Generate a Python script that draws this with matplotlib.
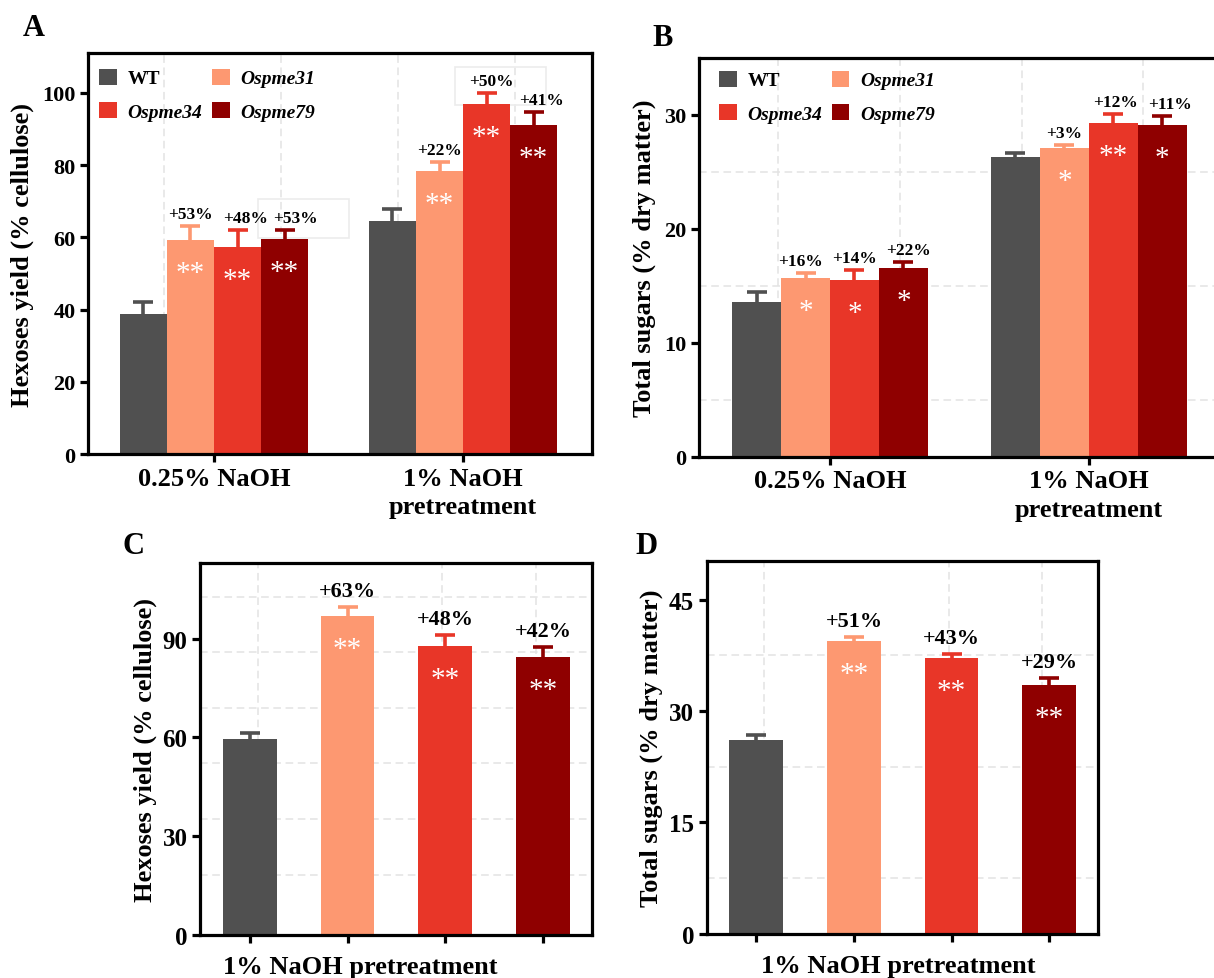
import numpy as np
import matplotlib
matplotlib.use("Agg")
import matplotlib.pyplot as plt
from matplotlib.patches import Patch, Rectangle
from matplotlib.ticker import FixedLocator

# ---------------- data ----------------
genotypes = ["WT", "Ospme31", "Ospme34", "Ospme79"]
groups_ab = ["0.25% NaOH", "1% NaOH\npretreatment"]

# Panel A: hexoses yield (% cellulose), rows = genotypes, cols = groups
hex_a = [[38.8, 64.4], [59.3, 78.3], [57.4, 96.9], [59.5, 91.0]]
hex_a_err = [[3.2, 3.5], [3.7, 2.5], [4.5, 3.0], [2.5, 3.6]]
hex_a_pct = [[None, None], ["+53%", "+22%"], ["+48%", "+50%"], ["+53%", "+41%"]]
hex_a_sig = [[None, None], ["**", "**"], ["**", "**"], ["**", "**"]]

# Panel B: total sugars (% dry matter)
sug_b = [[13.6, 26.3], [15.7, 27.1], [15.5, 29.3], [16.6, 29.1]]
sug_b_err = [[0.9, 0.35], [0.45, 0.3], [0.9, 0.75], [0.5, 0.85]]
sug_b_pct = [[None, None], ["+16%", "+3%"], ["+14%", "+12%"], ["+22%", "+11%"]]
sug_b_sig = [[None, None], ["*", "*"], ["*", "**"], ["*", "*"]]

# Panel C: hexoses yield, 1% NaOH pretreatment
hex_c = [59.4, 97.0, 87.7, 84.4]
hex_c_err = [2.0, 2.6, 3.3, 3.0]
hex_c_pct = [None, "+63%", "+48%", "+42%"]
hex_c_sig = [None, "**", "**", "**"]

# Panel D: total sugars, 1% NaOH pretreatment
sug_d = [26.1, 39.4, 37.2, 33.5]
sug_d_err = [0.7, 0.6, 0.5, 0.9]
sug_d_pct = [None, "+51%", "+43%", "+29%"]
sug_d_sig = [None, "**", "**", "**"]

# ---------------- style ----------------
colors = ["#505050", "#fd9871", "#e83628", "#8f0000"]
# horizontal nudges (pixels) of the percentage labels, as in the original
nudge_a = [[0, 0], [0, 0], [8, 5], [11, 8]]
nudge_b = [[0, 0], [-5, 0], [0, 2], [5, 8]]

plt.rcParams["font.family"] = ["Liberation Serif", "DejaVu Serif"]
plt.rcParams["font.weight"] = "bold"
plt.rcParams["axes.labelweight"] = "bold"

fig = plt.figure(figsize=(12.14, 9.79), dpi=100)
PX = 72.0 / 100.0  # points per pixel

axA = fig.add_axes([0.0725, 0.5352, 0.4152, 0.4096])
axB = fig.add_axes([0.5758, 0.5322, 0.4316, 0.4076])
axC = fig.add_axes([0.1647, 0.0439, 0.3229, 0.3800])
axD = fig.add_axes([0.5820, 0.0450, 0.3225, 0.3810])

grid_kw = dict(color="#e3e3e3", linestyle=(0, (5, 3)), linewidth=1.1)


def style_axes(ax, yticks, ylim, xlim, hgrid, vgrid, tick_fs):
    ax.set_xlim(*xlim)
    ax.set_ylim(*ylim)
    ax.set_yticks(yticks)
    for s in ax.spines.values():
        s.set_linewidth(2.3)
        s.set_color("black")
    ax.tick_params(axis="both", which="major", direction="out", length=6,
                   width=2.3, labelsize=tick_fs, pad=3)
    ax.tick_params(axis="both", which="minor", length=0)
    ax.yaxis.set_minor_locator(FixedLocator(hgrid))
    ax.xaxis.set_minor_locator(FixedLocator(vgrid))
    ax.grid(True, which="minor", **grid_kw)
    ax.grid(False, which="major")
    ax.set_axisbelow(True)
    for lab in ax.get_yticklabels() + ax.get_xticklabels():
        lab.set_fontweight("bold")


def up_err(ax, x, v, e, color):
    _, caps, _ = ax.errorbar(x, v, yerr=[np.zeros_like(e), e], fmt="none",
                             ecolor=color, elinewidth=2.6, capsize=7,
                             capthick=2.6, zorder=3)
    caps[0].set_visible(False)


def annotate_bar(ax, x, top, errtop, pct, sig, pct_fs, pct_off, star_fs, dx=0):
    if pct:
        ax.annotate(pct, (x, errtop), xytext=(dx * PX, pct_off * PX),
                    textcoords="offset points", ha="center", va="center",
                    fontsize=pct_fs, fontweight="bold", color="black")
    if sig:
        ax.annotate(sig, (x, top), xytext=(0, -40 * PX),
                    textcoords="offset points", ha="center", va="baseline",
                    fontsize=star_fs, fontweight="normal", color="white")


# ---------- grouped panels A & B ----------
width = 0.189
offsets = (np.arange(4) - 1.5) * width


def grouped(ax, vals, errs, pcts, sigs, nudge, yticks, ylim, hgrid, ylabel,
            anchor):
    xg = np.arange(len(groups_ab))
    for i in range(4):
        xs = xg + offsets[i]
        v = np.array(vals[i])
        e = np.array(errs[i])
        ax.bar(xs, v, width=width, color=colors[i], edgecolor="none", zorder=2)
        up_err(ax, xs, v, e, colors[i])
        for j in range(len(xg)):
            annotate_bar(ax, xs[j], v[j], v[j] + e[j], pcts[i][j], sigs[i][j],
                         12.5, 12, 21, nudge[i][j])
    style_axes(ax, yticks, ylim, (-0.506, 1.518), hgrid,
               [-0.2, 0.27, 0.74, 1.21], 16)
    ax.set_xticks(xg)
    ax.set_xticklabels(groups_ab, fontsize=19, fontweight="bold",
                       linespacing=1.3)
    ax.set_ylabel(ylabel, fontsize=19, fontweight="bold", labelpad=6)
    handles = [Patch(facecolor=colors[k], edgecolor="none") for k in (0, 2, 1, 3)]
    labels = [genotypes[k] for k in (0, 2, 1, 3)]
    leg = ax.legend(handles, labels, ncol=2, loc="upper left",
                    bbox_to_anchor=anchor, frameon=False,
                    handlelength=0.9, handleheight=0.9, handletextpad=0.55,
                    columnspacing=0.5, labelspacing=0.75, borderaxespad=0.5,
                    prop={"size": 14, "weight": "bold"})
    for t in leg.get_texts():
        if t.get_text() != "WT":
            t.set_fontstyle("italic")


grouped(axA, hex_a, hex_a_err, hex_a_pct, hex_a_sig, nudge_a,
        [0, 20, 40, 60, 80, 100], (0, 111), [20, 40, 60, 80, 100],
        "Hexoses yield (% cellulose)", (-0.012, 1.005))
grouped(axB, sug_b, sug_b_err, sug_b_pct, sug_b_sig, nudge_b,
        [0, 10, 20, 30], (0, 35), [5, 10, 15, 20, 25, 30],
        "Total sugars (% dry matter)", (0.005, 1.012))

# faint leftover boxes in panel A
for (x0, y0, w, h) in [(0.338, 0.54, 0.18, 0.095), (0.728, 0.87, 0.18, 0.095)]:
    axA.add_patch(Rectangle((x0, y0), w, h, transform=axA.transAxes,
                            fill=False, edgecolor="#ececec", linewidth=1.2,
                            zorder=1))


# ---------- single-group panels C & D ----------
def single(ax, vals, errs, pcts, sigs, yticks, ylim, hgrid, ylabel, xlab_x):
    x = np.arange(len(vals))
    v = np.array(vals)
    e = np.array(errs)
    ax.bar(x, v, width=0.55, color=colors, edgecolor="none", zorder=2)
    for i in range(len(v)):
        up_err(ax, [x[i]], [v[i]], np.array([e[i]]), colors[i])
        annotate_bar(ax, x[i], v[i], v[i] + e[i], pcts[i], sigs[i], 16, 16, 21)
    style_axes(ax, yticks, ylim, (-0.51, 3.5), hgrid,
               [0.08, 1.0, 1.97, 2.93], 18)
    ax.set_xticks(x)
    ax.set_xticklabels([])
    ax.set_xlabel("1% NaOH pretreatment", fontsize=19, fontweight="bold",
                  labelpad=4)
    ax.xaxis.set_label_coords(xlab_x, -0.055)
    ax.set_ylabel(ylabel, fontsize=19, fontweight="bold", labelpad=4)


single(axC, hex_c, hex_c_err, hex_c_pct, hex_c_sig, [0, 30, 60, 90], (0, 113),
       [18.2, 35.2, 52.1, 69.0, 85.9, 102.8], "Hexoses yield (% cellulose)",
       0.41)
single(axD, sug_d, sug_d_err, sug_d_pct, sug_d_sig, [0, 15, 30, 45], (0, 50.2),
       [7.5, 15, 22.5, 30, 37.5, 45], "Total sugars (% dry matter)", 0.49)

# panel letters
for lbl, (x, y) in {"A": (34, 29), "B": (663, 39), "C": (134, 547),
                    "D": (647, 547)}.items():
    fig.text(x / 1214, 1 - y / 979, lbl, fontsize=22, fontweight="bold",
             ha="center", va="center")

fig.savefig("out.png", dpi=100)
